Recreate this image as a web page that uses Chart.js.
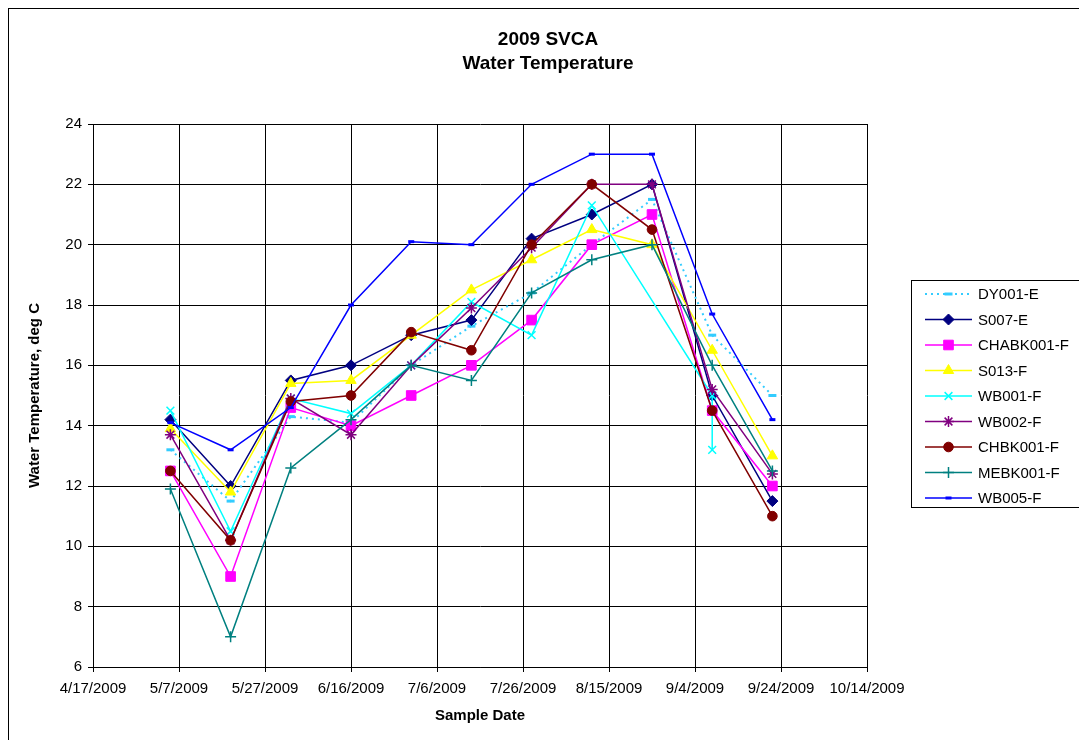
<!DOCTYPE html>
<html>
<head>
<meta charset="utf-8">
<title>2009 SVCA Water Temperature</title>
<script src="https://cdn.jsdelivr.net/npm/chart.js@4.4.0/dist/chart.umd.min.js"></script>
<style>
  html, body { margin: 0; padding: 0; background: #fff; }
  #wrap { position: relative; width: 1079px; height: 740px; }
</style>
</head>
<body>
<div id="wrap"><canvas id="tempChart" width="1079" height="740"></canvas></div>
<script>
// sampling dates used by most stations
const sampleDates = ['2009-05-05', '2009-05-19', '2009-06-02', '2009-06-16', '2009-06-30', '2009-07-14',
                     '2009-07-28', '2009-08-11', '2009-08-25', '2009-09-08', '2009-09-22'];
// WB001-F has no 8/25 reading and two readings on 9/8
const wb001Dates = ['2009-05-05', '2009-05-19', '2009-06-02', '2009-06-16', '2009-06-30', '2009-07-14',
                    '2009-07-28', '2009-08-11', '2009-09-08', '2009-09-08'];

const xTickLabels = ['4/17/2009', '5/7/2009', '5/27/2009', '6/16/2009', '7/6/2009', '7/26/2009',
                     '8/15/2009', '9/4/2009', '9/24/2009', '10/14/2009'];
const yMin = 6, yMax = 24, yStep = 2;

// water temperature, deg C
const dy001    = [13.2, 11.5, 14.3, 14.1, 16.0, 17.3, 18.4, 20.0, 21.5, 17.0, 15.0];
const s007     = [14.2, 12.0, 15.5, 16.0, 17.0, 17.5, 20.2, 21.0, 22.0, 15.0, 11.5];
const chabk001 = [12.5,  9.0, 14.6, 14.0, 15.0, 16.0, 17.5, 20.0, 21.0, 14.5, 12.0];
const s013     = [13.9, 11.8, 15.4, 15.5, 17.0, 18.5, 19.5, 20.5, 20.0, 16.5, 13.0];
const wb001    = [14.5, 10.5, 14.9, 14.4, 16.0, 18.1, 17.0, 21.3, 15.0, 13.2];
const wb002    = [13.7, 10.2, 14.9, 13.7, 16.0, 17.9, 19.9, 22.0, 22.0, 15.2, 12.4];
const chbk001  = [12.5, 10.2, 14.8, 15.0, 17.1, 16.5, 20.0, 22.0, 20.5, 14.5, 11.0];
const mebk001  = [11.9,  7.0, 12.6, 14.2, 16.0, 15.5, 18.4, 19.5, 20.0, 16.0, 12.5];
const wb005    = [14.1, 13.2, 14.6, 18.0, 20.1, 20.0, 22.0, 23.0, 23.0, 17.7, 14.2];

const FONT = "'Liberation Sans', Arial, Helvetica, sans-serif";

function isoToDay(s) {
    const [y, m, d] = s.split('-').map(Number);
    return Date.UTC(y, m - 1, d) / 864e5;
}
function labelToDay(s) {
    const [m, d, y] = s.split('/').map(Number);
    return Date.UTC(y, m - 1, d) / 864e5;
}
const tickDays = xTickLabels.map(labelToDay);

function points(dates, values) {
    return values.map((v, i) => ({ x: isoToDay(dates[i]), y: v }));
}

function series(label, dates, values, color, style, opts) {
    return Object.assign({
        label: label,
        data: points(dates, values),
        borderColor: color,
        backgroundColor: color,
        borderWidth: 1.5,
        pointStyle: style,
        pointRadius: 5,
        pointBorderWidth: 1,
        pointBackgroundColor: color,
        pointBorderColor: color,
        tension: 0,
        fill: false
    }, opts || {});
}

const datasets = [
    series('DY001-E', sampleDates, dy001, '#33CCFF', 'line', { borderDash: [2, 4], borderWidth: 2, pointRadius: 4, pointBorderWidth: 3 }),
    series('S007-E', sampleDates, s007, '#000080', 'rectRot', { pointRadius: 5.5 }),
    series('CHABK001-F', sampleDates, chabk001, '#FF00FF', 'rect', { pointRadius: 6.8 }),
    series('S013-F', sampleDates, s013, '#FFFF00', 'triangle', { pointRadius: 6 }),
    series('WB001-F', wb001Dates, wb001, '#00FFFF', 'crossRot', { pointRadius: 5.5, pointBorderWidth: 1.5 }),
    series('WB002-F', sampleDates, wb002, '#800080', 'star', { pointRadius: 5.5, pointBorderWidth: 1.5 }),
    series('CHBK001-F', sampleDates, chbk001, '#800000', 'circle', { pointRadius: 4.8 }),
    series('MEBK001-F', sampleDates, mebk001, '#008080', 'cross', { pointRadius: 5.5, pointBorderWidth: 1.5 }),
    series('WB005-F', sampleDates, wb005, '#0000FF', 'line', { pointRadius: 3, pointBorderWidth: 3 })
];
// Excel draws later series on top
datasets.forEach((ds, i) => { ds.order = datasets.length - 1 - i; });

// white background, outer frame and the two-line title
const frameAndTitle = {
    id: 'frameAndTitle',
    beforeDraw(chart) {
        const ctx = chart.ctx;
        ctx.save();
        ctx.fillStyle = '#fff';
        ctx.fillRect(0, 0, chart.width, chart.height);
        ctx.strokeStyle = '#000';
        ctx.lineWidth = 1;
        ctx.strokeRect(8.5, 8.5, chart.width + 20, chart.height + 20);
        ctx.fillStyle = '#000';
        ctx.font = 'bold 19px ' + FONT;
        ctx.textAlign = 'center';
        ctx.textBaseline = 'middle';
        ctx.fillText('2009 SVCA', 548, 40);
        ctx.fillText('Water Temperature', 548, 64);
        ctx.restore();
    }
};

// legend box with line + marker samples, like Excel
const legendBox = {
    id: 'legendBox',
    afterDraw(chart) {
        const ctx = chart.ctx;
        const left = 911.5, top = 280.5, w = 180, h = 227;
        ctx.save();
        ctx.fillStyle = '#fff';
        ctx.fillRect(left, top, w, h);
        ctx.strokeStyle = '#000';
        ctx.lineWidth = 1;
        ctx.strokeRect(left, top, w, h);
        chart.data.datasets.forEach((ds, i) => {
            const y = 294 + i * 25.5;
            ctx.beginPath();
            ctx.strokeStyle = ds.borderColor;
            ctx.lineWidth = ds.borderWidth;
            ctx.setLineDash(ds.borderDash || []);
            ctx.moveTo(925, y);
            ctx.lineTo(972, y);
            ctx.stroke();
            ctx.setLineDash([]);
            ctx.fillStyle = ds.pointBackgroundColor;
            ctx.strokeStyle = ds.pointBorderColor;
            ctx.lineWidth = ds.pointBorderWidth;
            Chart.helpers.drawPoint(ctx, {
                pointStyle: ds.pointStyle,
                radius: ds.pointRadius,
                borderWidth: ds.pointBorderWidth,
                rotation: 0
            }, 948.5, y);
            ctx.fillStyle = '#000';
            ctx.font = '15px ' + FONT;
            ctx.textAlign = 'left';
            ctx.textBaseline = 'middle';
            ctx.fillText(ds.label, 978, y + 1);
        });
        ctx.restore();
    }
};

new Chart(document.getElementById('tempChart'), {
    type: 'line',
    data: { datasets: datasets },
    plugins: [frameAndTitle, legendBox],
    options: {
        responsive: false,
        animation: false,
        devicePixelRatio: 1,
        layout: { padding: { top: 124, right: 212, bottom: 10, left: 10 } },
        plugins: {
            legend: { display: false },
            title: { display: false },
            tooltip: { enabled: false }
        },
        scales: {
            x: {
                type: 'linear',
                min: tickDays[0],
                max: tickDays[tickDays.length - 1],
                afterBuildTicks: scale => { scale.ticks = tickDays.map(v => ({ value: v })); },
                afterFit: scale => { scale.height = 63; },
                grid: { color: '#000', lineWidth: 1, tickLength: 5, tickColor: '#000' },
                border: { color: '#000', width: 1 },
                ticks: {
                    color: '#000',
                    font: { family: FONT, size: 15 },
                    padding: 8,
                    maxRotation: 0,
                    autoSkip: false,
                    callback: value => {
                        const i = tickDays.indexOf(value);
                        return i >= 0 ? xTickLabels[i] : '';
                    }
                },
                title: {
                    display: true,
                    text: 'Sample Date',
                    color: '#000',
                    font: { family: FONT, size: 15, weight: 'bold' },
                    padding: { top: 4, bottom: 5 }
                }
            },
            y: {
                min: yMin,
                max: yMax,
                afterFit: scale => { scale.width = 83; },
                grid: { color: '#000', lineWidth: 1, tickLength: 5, tickColor: '#000' },
                border: { color: '#000', width: 1 },
                ticks: {
                    stepSize: yStep,
                    color: '#000',
                    font: { family: FONT, size: 15 },
                    padding: 6
                },
                title: {
                    display: true,
                    text: 'Water Temperature, deg C',
                    color: '#000',
                    font: { family: FONT, size: 15, weight: 'bold' },
                    padding: { top: 16, bottom: 4 }
                }
            }
        }
    }
});
</script>
</body>
</html>
